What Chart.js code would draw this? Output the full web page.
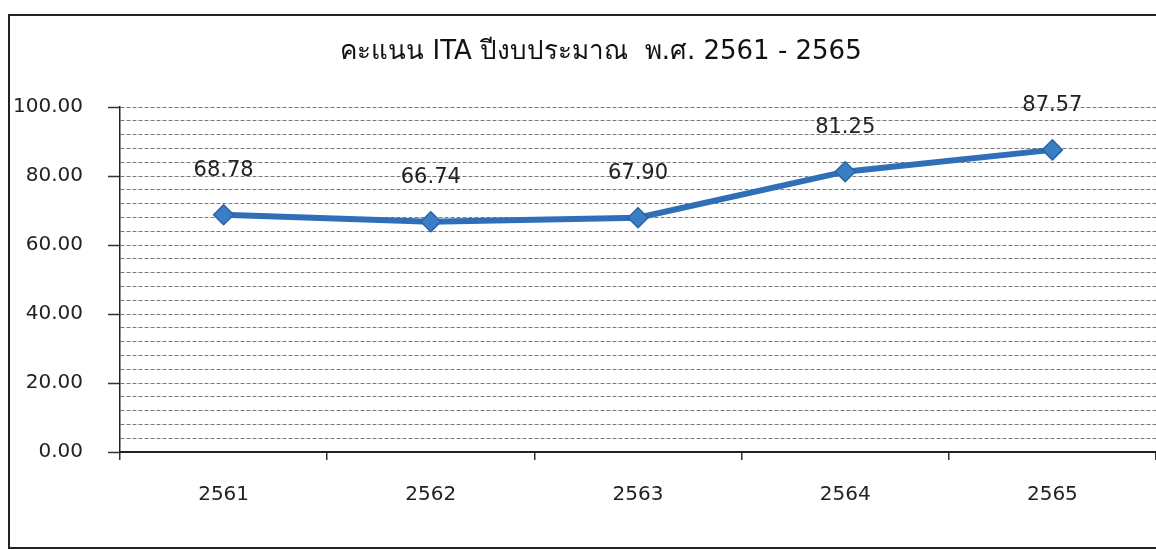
<!DOCTYPE html>
<html><head><meta charset="utf-8">
<script src="https://cdn.jsdelivr.net/npm/chart.js@4"></script>
<style>
html,body{margin:0;padding:0;background:#fff;overflow:hidden}
#wrap{position:relative;width:1156px;height:550px;overflow:hidden}
#frame{position:absolute;left:8px;top:14px;width:1200px;height:535px;border:2px solid #222;box-sizing:border-box}
canvas{position:absolute;left:0;top:0}
</style></head><body>
<div id="wrap"><div id="frame"></div><canvas id="c" width="1156" height="550"></canvas></div>
<script>
const categories = ['2561', '2562', '2563', '2564', '2565'];
const scores = [68.78, 66.74, 67.90, 81.25, 87.57];
const yMin = 0, yMax = 100, yMinorStep = 4, yMajorStep = 20;
const titleText = 'คะแนน ITA ปีงบประมาณ  พ.ศ. 2561 - 2565';

const FONT = '"DejaVu Sans", Verdana, sans-serif';

const titlePlugin = {
  id: 'customTitle',
  afterDraw(chart) {
    const ctx = chart.ctx;
    ctx.save();
    ctx.font = '26px ' + FONT;
    ctx.fillStyle = '#111';
    ctx.textAlign = 'center';
    ctx.textBaseline = 'middle';
    ctx.fillText(titleText, 601, 52);
    ctx.restore();
  }
};

const valueLabels = {
  id: 'valueLabels',
  afterDatasetsDraw(chart) {
    const ctx = chart.ctx;
    const meta = chart.getDatasetMeta(0);
    ctx.save();
    ctx.font = '21px ' + FONT;
    ctx.fillStyle = '#222';
    ctx.textAlign = 'center';
    ctx.textBaseline = 'middle';
    meta.data.forEach((pt, i) => {
      ctx.fillText(scores[i].toFixed(2), pt.x, pt.y - 44);
    });
    ctx.restore();
  }
};

new Chart(document.getElementById('c'), {
  type: 'line',
  data: {
    labels: categories,
    datasets: [{
      data: scores,
      borderColor: '#2f6fb7',
      borderWidth: 6,
      pointStyle: 'rectRot',
      pointRadius: 10,
      pointHoverRadius: 10,
      pointBackgroundColor: '#3a7ec6',
      pointBorderColor: '#2a63a6',
      pointBorderWidth: 1.5,
      tension: 0,
      clip: false
    }]
  },
  options: {
    responsive: false,
    animation: false,
    devicePixelRatio: 1,
    layout: { autoPadding: false, padding: { top: 107, left: 0, right: 0, bottom: 0 } },
    plugins: {
      legend: { display: false },
      title: { display: false },
      tooltip: { enabled: false }
    },
    scales: {
      x: {
        type: 'category',
        offset: true,
        grid: {
          offset: true,
          drawOnChartArea: false,
          drawTicks: true,
          tickLength: 8,
          tickColor: '#333',
          color: '#333',
          lineWidth: 1.5
        },
        border: { display: true, color: '#222', width: 2 },
        ticks: {
          padding: 23,
          color: '#222',
          font: { family: FONT, size: 20 },
          maxRotation: 0,
          autoSkip: false
        },
        afterFit: s => { s.height = 98; }
      },
      y: {
        min: yMin,
        max: yMax,
        ticks: {
          stepSize: yMinorStep,
          autoSkip: false,
          padding: 25,
          color: '#222',
          font: { family: FONT, size: 20 },
          callback: v => (v % yMajorStep === 0 ? Number(v).toFixed(2) : '')
        },
        grid: {
          color: c => (c.tick && c.tick.value === 0 ? 'rgba(0,0,0,0)' : '#7a7a7a'),
          lineWidth: 1,
          tickLength: 12,
          tickColor: '#333',
          tickWidth: c => (c.tick && c.tick.value % yMajorStep === 0 ? 1.5 : 0)
        },
        border: { display: true, color: '#222', width: 1.5, dash: [4, 2] },
        afterFit: s => { s.width = 120; }
      }
    }
  },
  plugins: [titlePlugin, valueLabels]
});
</script>
</body></html>
